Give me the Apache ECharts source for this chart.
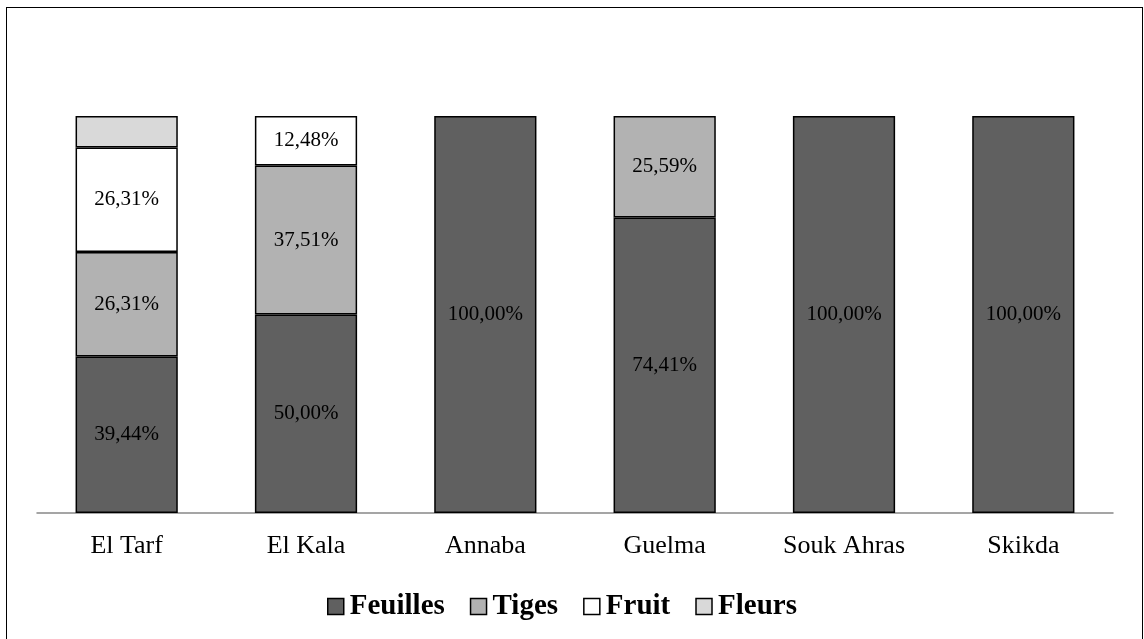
<!DOCTYPE html>
<html><head><meta charset="utf-8">
<script src="https://cdn.jsdelivr.net/npm/echarts@6/dist/echarts.min.js"></script>
<style>html,body{margin:0;padding:0;background:#fff;overflow:hidden}#c{width:1144px;height:639px;}
#frame{position:absolute;left:6px;top:7px;width:1137px;height:640px;border:1.5px solid #000;box-sizing:border-box;pointer-events:none}</style>
</head><body><div id="c"></div><div id="frame"></div>
<script>
const categories = ['El Tarf', 'El Kala', 'Annaba', 'Guelma', 'Souk Ahras', 'Skikda'];
const feuilles = [39.44, 50.00, 100.00, 74.41, 100.00, 100.00];
const tiges = [26.31, 37.51, 0, 25.59, 0, 0];
const fruit = [26.31, 12.48, 0, 0, 0, 0];
const fleurs = [7.94, 0, 0, 0, 0, 0];
const seriesNames = ['Feuilles', 'Tiges', 'Fruit', 'Fleurs'];
const colors = ['#606060', '#b2b2b2', '#ffffff', '#d9d9d9'];
const showLabel = [true, true, true, false];

const chart = echarts.init(document.getElementById('c'), null, {renderer: 'canvas'});
const font = '"Liberation Serif", "Times New Roman", serif';
const dataSets = [feuilles, tiges, fruit, fleurs];
chart.setOption({
  animation: false,
  backgroundColor: '#fff',
  grid: {left: 37, right: 31, top: 116, bottom: 126},
  legend: {
    top: 587, left: 322,
    itemWidth: 16, itemHeight: 16, itemGap: 25,
    icon: 'rect',
    itemStyle: {borderColor: '#000', borderWidth: 1.5},
    textStyle: {fontFamily: font, fontSize: 29, fontWeight: 'bold', color: '#000', padding: [0, 0, 0, 1]},
    data: seriesNames
  },
  xAxis: {
    type: 'category', data: categories,
    axisTick: {show: false},
    axisLine: {lineStyle: {color: '#888', width: 1.5}},
    axisLabel: {fontFamily: font, fontSize: 26, color: '#000', margin: 20}
  },
  yAxis: {type: 'value', min: 0, max: 100, show: false, splitLine: {show: false}},
  series: seriesNames.map((n, i) => ({
    name: n, type: 'bar', stack: 'total', barWidth: '57%',
    data: dataSets[i].map(v => v === 0 ? null : v),
    itemStyle: {color: colors[i], borderColor: '#000', borderWidth: 1.5},
    label: {
      show: showLabel[i], position: 'inside',
      fontFamily: font, fontSize: 21, color: '#000',
      formatter: p => p.value.toFixed(2).replace('.', ',') + '%'
    }
  }))
});
</script></body></html>
